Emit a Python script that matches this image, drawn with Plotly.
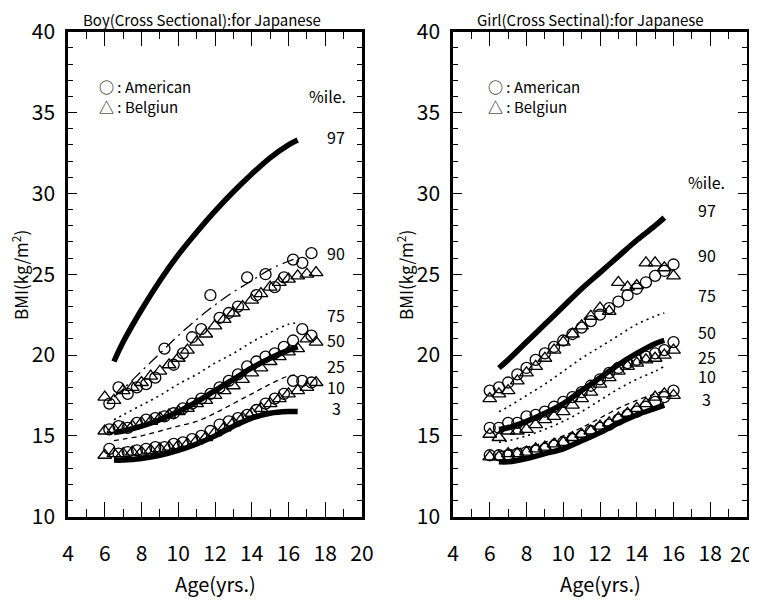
import plotly.graph_objects as go

# ---------------- data ----------------
boy_curve_age = [6.5, 7, 8, 9, 10, 11, 12, 13, 14, 15, 16, 16.5]
boy_p97 = [19.6, 20.8, 22.8, 24.6, 26.2, 27.6, 28.9, 30.1, 31.2, 32.2, 33.0, 33.3]
boy_p90 = [17.4, 17.9, 19.0, 20.1, 21.2, 22.2, 23.1, 23.9, 24.6, 25.3, 25.8, 26.0]
boy_p75 = [16.0, 16.3, 16.9, 17.5, 18.2, 18.8, 19.5, 20.1, 20.8, 21.4, 21.9, 22.0]
boy_p50 = [15.2, 15.3, 15.6, 16.0, 16.5, 17.1, 17.8, 18.5, 19.2, 19.8, 20.3, 20.5]
boy_p10 = [14.7, 14.8, 15.0, 15.3, 15.6, 15.9, 16.4, 17.0, 17.6, 18.2, 18.7, 18.8]
boy_p3 = [13.5, 13.5, 13.6, 13.8, 14.1, 14.5, 15.0, 15.6, 16.1, 16.4, 16.5, 16.5]

girl_curve_age = [6.5, 7, 8, 9, 10, 11, 12, 13, 14, 15, 15.5]
girl_p97 = [19.2, 19.7, 20.8, 21.9, 23.0, 24.1, 25.1, 26.1, 27.1, 28.0, 28.5]
girl_p75 = [16.5, 16.8, 17.5, 18.2, 19.0, 19.8, 20.5, 21.2, 21.9, 22.4, 22.6]
girl_p50 = [15.4, 15.5, 15.9, 16.4, 17.0, 17.8, 18.6, 19.4, 20.1, 20.7, 20.9]
girl_p25 = [14.6, 14.7, 15.0, 15.4, 15.9, 16.5, 17.2, 17.9, 18.5, 19.0, 19.3]
girl_p10 = [14.0, 14.1, 14.3, 14.6, 15.0, 15.5, 16.1, 16.7, 17.2, 17.6, 17.8]
girl_p3 = [13.4, 13.4, 13.6, 13.9, 14.2, 14.7, 15.2, 15.8, 16.3, 16.7, 16.9]

boy_am_age = [6.25, 6.75, 7.25, 7.75, 8.25, 8.75, 9.25, 9.75, 10.25, 10.75, 11.25, 11.75,
              12.25, 12.75, 13.25, 13.75, 14.25, 14.75, 15.25, 15.75, 16.25, 16.75, 17.25]
boy_am_hi = [17.0, 18.0, 17.6, 18.0, 18.2, 18.6, 20.4, 19.4, 20.1, 21.1, 21.6, 23.7,
             22.3, 22.6, 23.0, 24.8, 23.7, 25.0, 24.2, 24.8, 25.9, 25.7, 26.3]
boy_am_mid = [15.4, 15.6, 15.5, 15.8, 16.0, 16.1, 16.2, 16.4, 16.7, 17.0, 17.3, 17.6,
              18.0, 18.4, 18.8, 19.3, 19.6, 19.9, 20.1, 20.5, 20.9, 21.6, 21.2]
boy_am_lo = [14.2, 13.9, 14.0, 14.1, 14.2, 14.3, 14.3, 14.5, 14.6, 14.8, 15.0, 15.3,
             15.7, 15.9, 16.1, 16.3, 16.6, 17.0, 17.3, 17.6, 18.4, 18.4, 18.3]
boy_be_age = [6.0, 6.5, 7.0, 7.5, 8.0, 8.5, 9.0, 9.5, 10.0, 10.5, 11.0, 11.5,
              12.0, 12.5, 13.0, 13.5, 14.0, 14.5, 15.0, 15.5, 16.0, 16.5, 17.0, 17.5]
boy_be_hi = [17.4, 17.2, 17.8, 18.0, 18.3, 18.7, 19.0, 19.4, 19.8, 20.3, 20.8, 21.3,
             21.8, 22.2, 22.6, 23.0, 23.4, 23.8, 24.2, 24.5, 24.7, 24.9, 25.0, 25.1]
boy_be_mid = [15.3, 15.4, 15.5, 15.6, 15.8, 15.9, 16.1, 16.3, 16.5, 16.7, 17.0, 17.2,
              17.5, 17.8, 18.1, 18.5, 18.9, 19.2, 19.6, 19.9, 20.2, 20.4, 21.0, 20.8]
boy_be_lo = [13.8, 13.9, 13.9, 14.0, 14.0, 14.1, 14.2, 14.3, 14.4, 14.5, 14.7, 14.9,
             15.2, 15.5, 15.8, 16.1, 16.4, 16.7, 17.0, 17.3, 17.6, 17.8, 18.0, 18.3]

girl_age = [6.0, 6.5, 7.0, 7.5, 8.0, 8.5, 9.0, 9.5, 10.0, 10.5, 11.0, 11.5,
            12.0, 12.5, 13.0, 13.5, 14.0, 14.5, 15.0, 15.5, 16.0]
girl_am_hi = [17.8, 18.0, 18.3, 18.8, 19.2, 19.7, 20.1, 20.5, 20.9, 21.3, 21.7, 22.1,
              22.5, 22.9, 23.3, 23.7, 24.1, 24.5, 24.9, 25.2, 25.6]
girl_am_mid = [15.5, 15.5, 15.8, 15.8, 16.2, 16.3, 16.5, 16.8, 17.1, 17.4, 17.7, 18.1,
               18.5, 18.9, 19.2, 19.5, 19.7, 19.9, 20.1, 20.3, 20.8]
girl_am_lo = [13.8, 13.8, 13.8, 13.9, 14.0, 14.1, 14.2, 14.4, 14.6, 14.8, 15.0, 15.3,
              15.5, 15.7, 16.0, 16.3, 16.5, 16.8, 17.1, 17.4, 17.8]
girl_be_hi = [17.3, 17.6, 17.8, 18.4, 18.9, 19.3, 19.8, 20.3, 20.8, 21.3, 21.8, 22.4,
              22.9, 22.7, 24.5, 24.2, 24.3, 25.7, 25.7, 25.4, 24.9]
girl_be_mid = [15.1, 14.9, 15.3, 15.3, 15.4, 15.7, 16.0, 16.2, 16.5, 16.9, 17.3, 17.7,
               18.2, 18.6, 19.0, 19.3, 19.5, 19.7, 19.8, 20.0, 20.3]
girl_be_lo = [13.7, 13.7, 13.9, 13.9, 14.0, 14.2, 14.3, 14.5, 14.6, 14.9, 15.1, 15.3,
              15.6, 15.8, 16.1, 16.4, 16.7, 17.0, 17.4, 17.6, 17.5]

pct_labels = ["97", "90", "75", "50", "25", "10", "3"]
boy_label_y = [33.5, 26.3, 22.5, 20.9, 19.3, 18.0, 16.7]
girl_label_y = [29.0, 26.2, 23.7, 21.4, 19.9, 18.7, 17.3]

x_ticks = [4, 6, 8, 10, 12, 14, 16, 18, 20]
x_ticktext = ["4", "6", "8", "10", "12", "14", "16", "18", "20"]
y_ticks = [10, 15, 20, 25, 30, 35, 40]

# ---------------- figure ----------------
FONT = "Noto Sans CJK JP, sans-serif"
OFF = 8            # page body margin
W, H = 749, 593    # figure size reaching the 757x601 window edges


def px_x(sx):
    return (sx - OFF) / W


def px_y(sy):
    return 1 - (sy - OFF) / H


fig = go.Figure()


def add_curve(xa, ya, xs, ys, style):
    styles = {
        "thick": dict(color="black", width=5.5),
        "dashdot": dict(color="black", width=1.3, dash="12px,5px,2px,5px"),
        "dot": dict(color="black", width=1.6, dash="2px,4px"),
        "dash": dict(color="black", width=1.3, dash="5px,4px"),
    }
    fig.add_trace(go.Scatter(x=xs, y=ys, mode="lines", line=dict(shape="spline", **styles[style]),
                             xaxis=xa, yaxis=ya, showlegend=False, hoverinfo="skip"))


def add_markers(xa, ya, xs, ys, symbol, size):
    fig.add_trace(go.Scatter(x=xs, y=ys, mode="markers",
                             marker=dict(symbol=symbol, size=size, color="black",
                                         line=dict(color="black", width=1.3)),
                             xaxis=xa, yaxis=ya, showlegend=False))


add_curve("x", "y", boy_curve_age, boy_p97, "thick")
add_curve("x", "y", boy_curve_age, boy_p90, "dashdot")
add_curve("x", "y", boy_curve_age, boy_p75, "dot")
add_curve("x", "y", boy_curve_age, boy_p50, "thick")
add_curve("x", "y", boy_curve_age, boy_p10, "dash")
add_curve("x", "y", boy_curve_age, boy_p3, "thick")
for ys in (boy_am_hi, boy_am_mid, boy_am_lo):
    add_markers("x", "y", boy_am_age, ys, "circle-open", 11)
for ys in (boy_be_hi, boy_be_mid, boy_be_lo):
    add_markers("x", "y", boy_be_age, ys, "triangle-up-open", 12)

add_curve("x2", "y2", girl_curve_age, girl_p97, "thick")
add_curve("x2", "y2", girl_curve_age, girl_p75, "dot")
add_curve("x2", "y2", girl_curve_age, girl_p50, "thick")
add_curve("x2", "y2", girl_curve_age, girl_p25, "dot")
add_curve("x2", "y2", girl_curve_age, girl_p10, "dash")
add_curve("x2", "y2", girl_curve_age, girl_p3, "thick")
for ys in (girl_am_hi, girl_am_mid, girl_am_lo):
    add_markers("x2", "y2", girl_age, ys, "circle-open", 11)
for ys in (girl_be_hi, girl_be_mid, girl_be_lo):
    add_markers("x2", "y2", girl_age, ys, "triangle-up-open", 12)

ydom = [px_y(516.7), px_y(31.7)]
tick_font = dict(family=FONT, size=21, color="black")
xcommon = dict(range=[4, 20], tickvals=x_ticks, ticks="inside", ticklen=15, tickwidth=1.3,
               tickcolor="black", showline=True, linecolor="black", linewidth=2.5, mirror="ticks",
               showgrid=False, zeroline=False, automargin=False, ticklabelstandoff=16,
               ticklabeloverflow="allow", tickfont=tick_font,
               minor=dict(dtick=1, ticks="inside", ticklen=8, tickwidth=1.3, tickcolor="black", showgrid=False))
ycommon = dict(range=[10, 40], tickvals=y_ticks, ticks="inside", ticklen=9, tickwidth=1.3,
               tickcolor="black", showline=True, linecolor="black", linewidth=2.5, mirror="ticks",
               showgrid=False, zeroline=False, automargin=False, ticklabelstandoff=6,
               ticklabeloverflow="allow", tickfont=tick_font,
               minor=dict(dtick=1, ticks="inside", ticklen=5, tickwidth=1.3, tickcolor="black", showgrid=False),
               domain=ydom)

# last label of the right panel is nudged inward (as in the original) so it fits the page
x2_ticktext = x_ticktext[:-1] + [""]

fig.update_layout(
    width=W, height=H, margin=dict(l=0, r=0, t=0, b=0, autoexpand=False),
    paper_bgcolor="white", plot_bgcolor="white",
    xaxis=dict(domain=[px_x(68), px_x(362)], anchor="y", ticktext=x_ticktext, **xcommon),
    yaxis=dict(anchor="x", **ycommon),
    xaxis2=dict(domain=[px_x(453), px_x(747)], anchor="y2", ticktext=x2_ticktext, **xcommon),
    yaxis2=dict(anchor="x2", **ycommon),
)


def paper_text(text, sx, sy, font, angle=0):
    return dict(text=text, x=px_x(sx), y=px_y(sy), xref="paper", yref="paper",
                xanchor="center", yanchor="middle", textangle=angle, showarrow=False, font=font)


ann = []
ann.append(paper_text(x_ticktext[-1], 741, 553, tick_font))
tf = dict(family=FONT, size=15, color="black")
ann.append(paper_text("Boy(Cross Sectional):for Japanese", 202, 19, tf))
ann.append(paper_text("Girl(Cross Sectinal):for Japanese", 590, 19, tf))
af = dict(family=FONT, size=20, color="black")
ann.append(paper_text("Age(yrs.)", 215, 583, af))
ann.append(paper_text("Age(yrs.)", 600, 583, af))
bf = dict(family=FONT, size=17, color="black")
ann.append(paper_text("BMI(kg/m<sup>2</sup>)", 20, 275, bf, -90))
ann.append(paper_text("BMI(kg/m<sup>2</sup>)", 405, 275, bf, -90))
lf = dict(family=FONT, size=15, color="black")
for xr, yr, x0 in (("x", "y", 5.6), ("x2", "y2", 5.8)):
    ann.append(dict(text="○ : American", x=x0, y=36.6, xref=xr, yref=yr, xanchor="left", yanchor="middle",
                    showarrow=False, font=lf))
    ann.append(dict(text="△ : Belgiun", x=x0, y=35.4, xref=xr, yref=yr, xanchor="left", yanchor="middle",
                    showarrow=False, font=lf))
pf = dict(family=FONT, size=16, color="black")
ann.append(dict(text="%ile.", x=18.1, y=36.0, xref="x", yref="y", showarrow=False, font=pf))
ann.append(dict(text="%ile.", x=17.8, y=30.7, xref="x2", yref="y2", showarrow=False, font=pf))
for lab, yb, yg in zip(pct_labels, boy_label_y, girl_label_y):
    ann.append(dict(text=lab, x=18.6, y=yb, xref="x", yref="y", showarrow=False, font=pf))
    ann.append(dict(text=lab, x=17.8, y=yg, xref="x2", yref="y2", showarrow=False, font=pf))
fig.update_layout(annotations=ann)

fig.write_html("out.html")
